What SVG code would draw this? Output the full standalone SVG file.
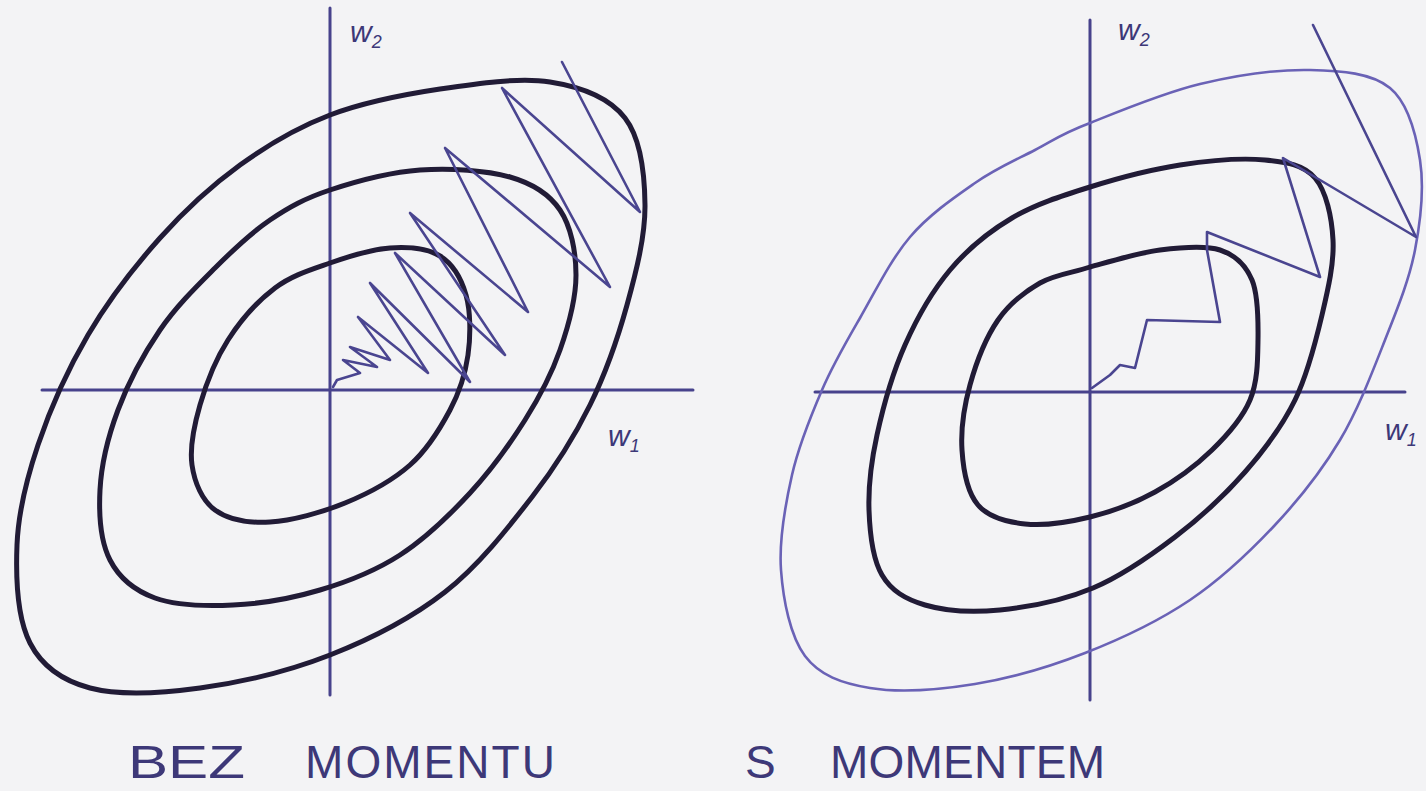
<svg xmlns="http://www.w3.org/2000/svg" width="1426" height="791" viewBox="0 0 1426 791">
<style>
.bg{fill:#f3f3f5}
.axis{fill:none;stroke:#47428c;stroke-width:3;stroke-linecap:round}
.dark{fill:none;stroke:#211b36;stroke-width:5;stroke-linejoin:round}
.light{fill:none;stroke:#6a62b6;stroke-width:2.6;stroke-linejoin:round}
.zig{fill:none;stroke:#4a4590;stroke-width:2.6;stroke-linejoin:round;stroke-linecap:round}
.lbl{font-family:"Liberation Sans",Arial,sans-serif;fill:#3d3878}
.cap{font-family:"Liberation Sans",Arial,sans-serif;font-size:46px;fill:#3d3878}
</style>
<rect class="bg" x="0" y="0" width="1426" height="791"/>

<g id="left-plot">
  <g id="left-axes">
    <line class="axis" x1="42" y1="390" x2="693" y2="390"/>
    <line class="axis" x1="330" y1="8" x2="330" y2="695"/>
    <text class="lbl" x="350" y="42" font-size="30" font-style="italic">w<tspan font-size="18" dy="6">2</tspan></text>
    <text class="lbl" x="608" y="446" font-size="30" font-style="italic">w<tspan font-size="18" dy="6">1</tspan></text>
  </g>
  <path id="left-outer" class="dark" stroke="#261f45" stroke-width="4.5" d="M330,115 C363.3,102.3 403.3,94.5 440,89 S519.2,77.2 550,82 S609.2,97.5 625,118 S644.7,173.8 645,205 S636.2,271.7 627,305 S605.8,373 590,405 S556.2,465.8 532,497 S478.7,565.7 445,592 S370.8,639 330,655 S240,682.5 200,688 S118.3,695.5 90,688 S42.2,666.8 30,643 S15.7,578 17,545 S26.2,480 38,445 S67.7,369.5 88,335 S134.7,266.3 160,238 S211.7,185.5 240,165 S296.7,127.7 330,115 Z"/>
  <path id="left-middle" class="dark" d="M330,190 C355,181.7 390,172.2 420,170 S486.7,170.3 510,177 S549,193.7 560,210 S576,251.7 576,275 S568.5,325.8 560,350 S540,396.2 525,420 S490.8,470.5 470,493 S425,538.8 400,555 S347.8,581.7 320,590 S260.5,603.7 233,605 S175.5,605.5 155,598 S119.2,578 110,560 S98.7,515 100,490 S108,436.7 118,410 S143.8,353.7 160,330 S196.7,286.3 215,268 S250.8,233 270,220 S305,198.3 330,190 Z"/>
  <path id="left-inner" class="dark" d="M330,263 C349.2,256.3 371.7,249.2 390,248 S427.3,248.2 440,256 S461.3,278.5 466,295 S470.7,335.8 468,355 S459.7,391.7 450,410 S427.5,449.5 410,465 S368.3,493.5 345,503 S291.7,520.8 270,522 S228,519.5 215,510 S194.5,482.5 192,465 S194,425.8 200,405 S215.5,359.5 228,340 S258,300.8 275,288 S310.8,269.7 330,263 Z"/>
  <polyline id="left-path" class="zig" points="562,62 640,212 502,88 610,287 445,148 528,312 410,213 505,355 395,253 470,382 370,283 428,373 358,317 390,360 350,347 377,367 343,360 360,373 337,380 333,387"/>
  <text class="cap" x="128" y="778" textLength="117" lengthAdjust="spacingAndGlyphs">BEZ</text>
  <text class="cap" x="305" y="778" textLength="250" lengthAdjust="spacing">MOMENTU</text>
</g>

<g id="right-plot">
  <g id="right-axes">
    <line class="axis" x1="815" y1="392" x2="1405" y2="392"/>
    <line class="axis" x1="1090" y1="20" x2="1090" y2="700"/>
    <text class="lbl" x="1118" y="40" font-size="30" font-style="italic">w<tspan font-size="18" dy="6">2</tspan></text>
    <text class="lbl" x="1385" y="440" font-size="30" font-style="italic">w<tspan font-size="18" dy="6">1</tspan></text>
  </g>
  <path id="right-outer" class="light" d="M1090,123 C1117.5,112 1163.3,92.8 1200,84 S1278.3,69.3 1310,70 S1371.7,73 1390,88 S1415.8,133 1420,160 S1420.8,220 1415,250 S1397.5,308.3 1385,340 S1358.3,409.2 1340,440 S1300,498.3 1275,525 S1221.7,578.7 1190,600 S1120.8,639 1085,653 S1010.8,678.2 975,684 S898.3,692.7 870,688 S819.8,675.7 805,656 S783.2,600.2 781,570 S785.2,505 792,475 S810.7,416.2 822,390 S845.3,343.5 860,318 S890.8,259.5 910,237 S954.2,197.5 975,183 S1015.8,160 1035,150 S1060.8,134 1090,123 Z"/>
  <path id="right-middle" class="dark" d="M1090,187 C1118,178.2 1150.8,169.5 1180,165 S1242.5,157.8 1265,160 S1303.7,164.7 1315,178 S1331.8,217.2 1333,240 S1328.3,288.3 1322,315 S1307.8,373.8 1295,400 S1265,449.2 1245,472 S1200.3,517.7 1175,537 S1122.2,575.8 1093,588 S1028,607.2 1000,610 S944.7,610.8 925,605 S891.3,590.8 882,575 S869.8,533.3 869,510 S871,462.5 877,435 S892.8,372.5 905,345 S932.2,291.2 950,270 S988.7,231.8 1012,218 S1062,195.8 1090,187 Z"/>
  <path id="right-inner" class="dark" d="M1090,267 C1110,261.5 1138.3,252.8 1160,250 S1204.7,245 1220,250 S1245.7,265 1252,280 S1258.3,320 1258,340 S1257.7,381.7 1250,400 S1227.8,434.7 1212,450 S1175.3,480.8 1155,492 S1111.7,511.7 1090,517 S1043.7,526 1025,524 S988.5,517.3 978,505 S963.3,470 962,450 S964,406.7 970,385 S986.3,337 998,320 S1024.7,291.8 1040,283 S1074.7,272.5 1090,267 Z"/>
  <polyline id="right-path" class="zig" points="1313,25 1416,237 1283,158 1320,277 1207,232 1207,250 1220,322 1147,320 1135,368 1120,365 1110,375 1092,388"/>
  <text class="cap" x="745" y="778">S</text>
  <text class="cap" x="830" y="778" textLength="275" lengthAdjust="spacing">MOMENTEM</text>
</g>
</svg>
